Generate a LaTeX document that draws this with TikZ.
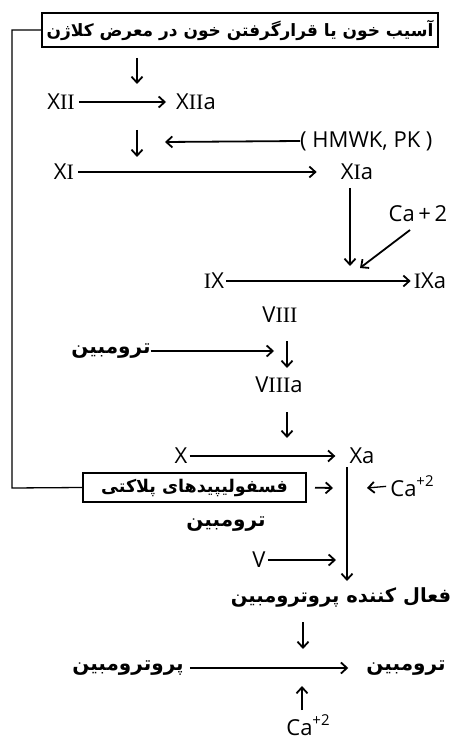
\documentclass[tikz,border=0pt]{standalone}
\usepackage{fontspec}
\setmainfont{Open Sans}
\newfontfamily\fa[Script=Arabic]{DejaVu Sans}
\newfontfamily\rmn{Liberation Serif}
\TeXXeTstate=1
\usetikzlibrary{arrows.meta}
\newcommand{\fatext}[1]{{\fa\bfseries\beginR #1\endR}}
\newcommand{\rI}{{\rmn I}}
\newcommand{\rII}{{\rmn II}}
\newcommand{\rIII}{{\rmn III}}
\newcommand{\chg}[1]{\raisebox{0.85ex}{\fontsize{15}{15}\selectfont #1}}
\tikzset{
  lbl/.style={inner sep=0pt, font=\fontsize{22}{24}\selectfont},
  falbl/.style={inner sep=0pt, font=\fontsize{20}{22}\selectfont},
  boxed/.style={draw, line width=2pt, inner sep=0pt},
  flow/.style={line width=1.8pt, -{Straight Barb[length=6pt,width=11pt,line width=1.8pt]}},
  link/.style={line width=1.3pt}
}
\begin{document}
\begin{tikzpicture}[x=1pt,y=-1pt]
\useasboundingbox (0,0) rectangle (452,743);

% starting box and feedback line
\node[boxed, minimum width=396pt, minimum height=34pt, font=\fontsize{17}{18}\selectfont] (injury) at (240,30)
  {\fatext{آسیب خون یا قرارگرفتن خون در معرض کلاژن}};
\node[boxed, minimum width=223pt, minimum height=29pt, font=\fontsize{17.5}{19}\selectfont] (plt) at (194.5,487.5)
  {\fatext{فسفولیپیدهای پلاکتی}};
\coordinate (c1) at (12,30);
\coordinate (c2) at (12,488);
\draw[link] (injury.west) -- (c1) -- (c2) -- (plt.west);

% contact activation
\coordinate (a1) at (137,58); \coordinate (a2) at (137,84);
\draw[flow] (a1) -- (a2);
\node[lbl] (xii) at (61,102) {X\rII};
\node[lbl] (xiia) at (196,102) {X\rII a};
\draw[flow, shorten <=4pt, shorten >=10pt] (xii.east) -- (xiia.west);

\coordinate (a3) at (137,130); \coordinate (a4) at (137,157);
\draw[flow] (a3) -- (a4);
\node[lbl, anchor=west] (hmwk) at (300,141) {( HMWK, PK )};
\coordinate (h1) at (165,142);
\draw[flow] (hmwk.west) -- (h1);

\node[lbl] (xi) at (64,172) {X\rI};
\node[lbl] (xia) at (357,172) {X\rI a};
\draw[flow, shorten <=4pt, shorten >=24pt] (xi.east) -- (xia.west);

% factor IX
\node[lbl] (ca1) at (418,214) {Ca\,+\,2};
\node[lbl] (ix) at (214,281) {\rI X};
\node[lbl] (ixa) at (430,281) {\rI Xa};
\coordinate (m1) at (350,266);
\coordinate (m2) at (360,268);
\draw[flow, line width=2.2pt] (350,188) -- (m1);
\draw[flow] (410,230) -- (m2);
\draw[flow, shorten <=2pt, shorten >=3pt] (ix.east) -- (ixa.west);

% factor VIII
\node[lbl] (viii) at (280,315) {V\rIII};
\node[falbl] (thr1) at (111,351) {\fatext{ترومبین}};
\coordinate (d1) at (287,341); \coordinate (d2) at (287,368);
\draw[flow] (d1) -- (d2);
\draw[flow] (thr1.east) -- (274,351);
\node[lbl] (viiia) at (279,385) {V\rIII a};
\coordinate (d3) at (287,412); \coordinate (d4) at (287,438);
\draw[flow] (d3) -- (d4);

% factor X
\node[lbl] (x) at (181,456) {X};
\node[lbl] (xa) at (362,456) {Xa};
\draw[flow, shorten <=2pt, shorten >=14pt] (x.east) -- (xa.west);
\coordinate (v1) at (347,467); \coordinate (v2) at (347,581);
\draw[flow, line width=2.2pt] (v1) -- (v2);
\draw[flow, shorten <=8pt] (plt.east) -- (333,488);
\node[lbl] (ca2) at (412,486) {Ca\chg{+2}};
\draw[flow, line width=1.3pt, shorten <=4pt] (ca2.west) -- (367,488);
\node[falbl] (thr2) at (226,524) {\fatext{ترومبین}};
\node[lbl] (v) at (259,560) {V};
\draw[flow, shorten <=2pt] (v.east) -- (336,560);

% prothrombin activator
\node[falbl, font=\fontsize{19.5}{21}\selectfont] (act) at (341,597) {\fatext{فعال کننده پروترومبین}};
\coordinate (d5) at (303,622); \coordinate (d6) at (303,649);
\draw[flow] (d5) -- (d6);
\node[falbl] (pro) at (128,668) {\fatext{پروترومبین}};
\node[falbl] (thr3) at (406,668) {\fatext{ترومبین}};
\draw[flow, shorten <=6pt, shorten >=18pt] (pro.east) -- (thr3.west);
\coordinate (u1) at (302,710); \coordinate (u2) at (302,686);
\draw[flow] (u1) -- (u2);
\node[lbl] (ca3) at (308,725) {Ca\chg{+2}};
\end{tikzpicture}
\end{document}
